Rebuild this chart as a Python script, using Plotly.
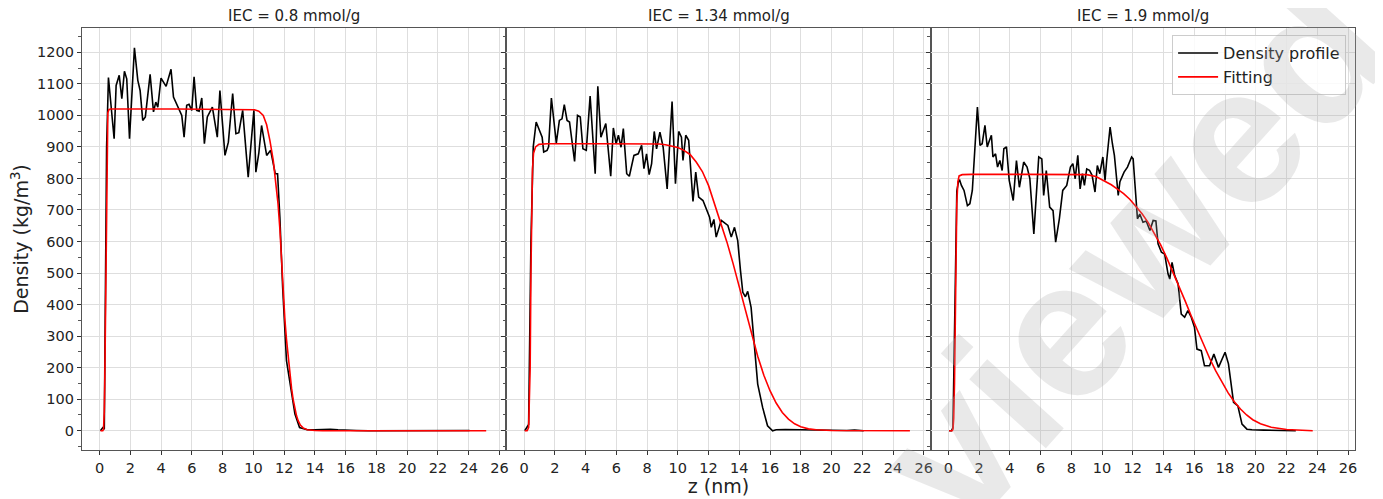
import plotly.graph_objects as go
from plotly.subplots import make_subplots

# ---------------- data ----------------
titles = ["IEC = 0.8 mmol/g", "IEC = 1.34 mmol/g", "IEC = 1.9 mmol/g"]

# IEC 0.8 - density profile
z1 = [0.05, 0.2, 0.3, 0.45, 0.57, 0.94, 1.07, 1.27, 1.44, 1.61, 1.76, 1.94, 2.26, 2.48, 2.63,
      2.8, 2.97, 3.28, 3.5, 3.65, 3.78, 3.99, 4.32, 4.64, 4.8, 5.12, 5.34, 5.49, 5.66, 5.81,
      5.99, 6.14, 6.31, 6.47, 6.64, 6.81, 7.0, 7.33, 7.65, 7.82, 8.15, 8.37, 8.65, 8.86, 9.05,
      9.3, 9.66, 10.03, 10.16, 10.35, 10.53, 10.86, 11.12, 11.42, 11.57, 11.72, 11.9, 12.15,
      12.37, 12.7, 13.0, 13.5, 14.0, 15.0, 15.5, 16.0, 16.7, 17.5, 20.0, 22.0, 22.5, 23.5, 24.06]
d1 = [0, 10, 5, 900, 1120, 926, 1095, 1127, 1053, 1140, 1116, 926, 1214, 1111, 1079,
      984, 995, 1130, 1011, 1042, 1026, 1118, 1092, 1146, 1058, 1021, 1000, 931, 1032, 1035,
      1016, 1122, 1016, 1013, 1055, 910, 995, 1026, 931, 1079, 873, 915, 1069, 942, 945,
      1016, 804, 1016, 820, 880, 968, 873, 889, 815, 815, 677, 455, 222,
      159, 53, 10, 3, 3, 5, 3, 3, 1, 0, 0, 0, 2, 2, 1]
# IEC 0.8 - fitting
zf1 = [0.05, 0.2, 0.25, 0.3, 0.33, 0.37, 0.4, 0.44, 0.48, 0.53, 0.6, 0.7, 5.0, 9.5, 10.07,
       10.35, 10.64, 10.86, 11.07, 11.29, 11.5, 11.6, 11.72, 11.83, 11.95, 12.05, 12.15, 12.26,
       12.37, 12.48, 12.58, 12.69, 12.8, 12.91, 13.05, 13.23, 13.5, 14.0, 14.5, 25.14]
f1 = [0, 0, 5, 60, 150, 350, 570, 800, 960, 1008, 1018, 1020, 1020, 1020, 1018,
      1013, 1000, 970, 921, 857, 772, 720, 640, 530, 420, 350, 290, 230,
      180, 135, 100, 70, 48, 32, 18, 9, 3, 1, 0, 0]

# IEC 1.34 - density profile
z2 = [0.05, 0.2, 0.3, 0.45, 0.6, 0.79, 1.07, 1.18, 1.28, 1.5, 1.6, 1.78, 2.1, 2.3, 2.47, 2.62,
      2.8, 2.96, 3.29, 3.48, 3.66, 3.83, 4.05, 4.3, 4.63, 4.8, 5.0, 5.32, 5.64, 5.81, 5.99,
      6.14, 6.31, 6.46, 6.68, 6.85, 7.15, 7.43, 7.65, 7.8, 7.97, 8.14, 8.3, 8.47, 8.62, 8.84,
      9.05, 9.31, 9.63, 9.85, 10.06, 10.24, 10.34, 10.52, 10.71, 10.99, 11.17, 11.36, 11.64,
      11.86, 12.07, 12.18, 12.35, 12.5, 12.83, 13.26, 13.48, 13.69, 13.9, 14.08, 14.23, 14.4,
      14.55, 14.77, 14.98, 15.2, 15.52, 15.84, 16.17, 16.4, 17.0, 18.0, 19.0, 20.0, 21.0,
      21.5, 22.1]
d2 = [0, 10, 20, 600, 900, 979, 942, 931, 884, 889, 900, 1055, 912, 984, 989, 1034,
      984, 979, 854, 1000, 995, 894, 889, 1061, 815, 1092, 931, 974, 807, 960, 910,
      937, 899, 958, 815, 807, 873, 878, 905, 831, 878, 812, 847, 949, 894, 947,
      899, 767, 1044, 783, 949, 931, 857, 937, 921, 727, 820, 741, 730,
      704, 677, 645, 670, 614, 667, 651, 614, 645, 603, 508, 439, 425,
      442, 391, 275, 148, 74, 16, 0, 3, 4, 3, 1, 0, 1,
      2, 0]
# IEC 1.34 - fitting
zf2 = [0.05, 0.2, 0.3, 0.4, 0.45, 0.5, 0.55, 0.62, 0.75, 0.97, 1.5, 5.0, 8.0, 8.8, 9.2, 9.6,
       10.0, 10.4, 10.8, 11.2, 11.6, 12.0, 12.4, 12.8, 13.2, 13.6, 14.0, 14.4, 14.8, 15.2,
       15.6, 16.0, 16.4, 16.8, 17.2, 17.6, 18.0, 18.5, 19.0, 20.0, 25.1]
f2 = [0, 0, 10, 200, 500, 720, 830, 880, 900, 908, 910, 910, 910, 909, 907, 903,
      898, 889, 876, 852, 822, 778, 720, 661, 598, 530, 458, 382, 306, 236,
      176, 127, 88, 58, 37, 22, 13, 6, 3, 1, 0]

# IEC 1.9 - density profile
z3 = [0.05, 0.2, 0.3, 0.42, 0.55, 0.66, 0.74, 0.85, 1.02, 1.24, 1.4, 1.56, 1.89, 2.06, 2.2,
      2.38, 2.53, 2.63, 2.8, 2.9, 3.07, 3.2, 3.35, 3.5, 3.61, 3.78, 3.96, 4.22, 4.43, 4.62,
      4.9, 5.12, 5.3, 5.56, 5.88, 6.08, 6.2, 6.37, 6.59, 6.81, 6.98, 7.22, 7.44, 7.7, 7.94,
      8.1, 8.25, 8.42, 8.57, 8.72, 8.85, 9.0, 9.18, 9.35, 9.54, 9.69, 9.85, 10.05, 10.19,
      10.3, 10.52, 10.67, 10.8, 11.05, 11.16, 11.43, 11.65, 11.92, 12.02, 12.14, 12.3, 12.45,
      12.66, 12.87, 13.11, 13.32, 13.5, 13.64, 13.86, 14.07, 14.29, 14.4, 14.55, 14.72, 14.94,
      15.15, 15.37, 15.58, 15.8, 16.01, 16.17, 16.45, 16.66, 16.99, 17.27, 17.57, 17.74, 18.0,
      18.22, 18.55, 18.83, 19.1, 19.42, 19.75, 20.5, 21.5, 22.0, 22.6]
d3 = [0, 0, 10, 400, 760, 790, 794, 778, 762, 714, 720, 762, 1026, 905, 910,
      968, 900, 915, 937, 868, 878, 836, 857, 825, 894, 900, 794, 730, 857, 772,
      852, 836, 800, 624, 868, 862, 746, 825, 709, 698, 598, 672, 762, 778, 836,
      847, 799, 873, 767, 815, 778, 830, 826, 810, 757, 841, 815, 868, 794,
      857, 963, 910, 873, 746, 790, 820, 836, 868, 862, 780, 672, 687,
      661, 665, 635, 667, 665, 593, 566, 560, 497, 481, 534, 492, 466,
      370, 360, 381, 360, 328, 259, 254, 206, 206, 243, 201, 222, 249,
      212, 90, 79, 21, 5, 3, 2, 1, 0, 0]
# IEC 1.9 - fitting
zf3 = [0.05, 0.25, 0.3, 0.35, 0.4, 0.45, 0.5, 0.55, 0.62, 0.7, 0.9, 1.5, 5.0, 9.0, 9.6, 10.1,
       10.6, 11.0, 11.4, 11.8, 12.2, 12.6, 13.0, 13.4, 13.8, 14.2, 14.6, 15.0, 15.4, 15.8,
       16.2, 16.6, 17.0, 17.4, 17.8, 18.2, 18.6, 19.0, 19.4, 19.8, 20.3, 21.0, 22.0, 23.0, 23.7]
f3 = [0, 0, 5, 40, 150, 350, 560, 720, 790, 808, 812, 813, 813, 812, 806, 792,
      780, 766, 752, 734, 712, 688, 660, 627, 590, 549, 505, 459, 412, 364,
      317, 272, 229, 189, 152, 120, 92, 69, 50, 35, 22, 11, 4, 1, 0]

profiles = [(z1, d1), (z2, d2), (z3, d3)]
fits = [(zf1, f1), (zf2, f2), (zf3, f3)]
x_ticks = list(range(0, 27, 2))
y_ticks = list(range(0, 1201, 100))

# ---------------- figure ----------------
FONT = "DejaVu Sans"
fig = make_subplots(rows=1, cols=3, shared_yaxes=True, horizontal_spacing=0,
                    subplot_titles=titles)

for i in range(3):
    zp, dp = profiles[i]
    zf, ff = fits[i]
    fig.add_trace(go.Scatter(x=zp, y=dp, mode="lines", name="Density profile",
                             line=dict(color="black", width=1.6),
                             showlegend=(i == 2)), row=1, col=i + 1)
    fig.add_trace(go.Scatter(x=zf, y=ff, mode="lines", name="Fitting",
                             line=dict(color="red", width=1.6),
                             showlegend=(i == 2)), row=1, col=i + 1)

axis_common = dict(showline=True, mirror=True, linecolor="#555555", linewidth=1.2,
                   ticks="outside", ticklen=4, tickwidth=1.1, tickcolor="#333333",
                   showgrid=True, gridcolor="#dedede", gridwidth=1, zeroline=False,
                   automargin=False,
                   tickfont=dict(family=FONT, size=14.5, color="#222222"))

for i in range(1, 4):
    fig.update_xaxes(range=[-1.15, 26.45], tickvals=x_ticks, **axis_common, row=1, col=i)
    fig.update_yaxes(range=[-61, 1277], tickvals=y_ticks,
                     minor=dict(dtick=50, ticklen=2.5, ticks="outside", tickcolor="#555555",
                                showgrid=False),
                     **axis_common, row=1, col=i)

fig.update_xaxes(title=dict(text="z (nm)", font=dict(family=FONT, size=19, color="#222222"),
                            standoff=2), row=1, col=2)
fig.update_yaxes(title=dict(text="Density (kg/m<sup>3</sup>)",
                            font=dict(family=FONT, size=19, color="#222222"), standoff=6),
                 row=1, col=1)

for ann in fig.layout.annotations:
    ann.font = dict(family=FONT, size=15, color="#222222")
    ann.yshift = 1

# watermark
fig.add_annotation(text="viewed", xref="paper", yref="paper", x=0.824, y=0.47,
                   xanchor="center", yanchor="middle",
                   showarrow=False, textangle=-48,
                   font=dict(family="Liberation Sans", size=195, weight="bold",
                             color="rgba(170,170,170,0.26)"))

fig.update_layout(
    width=1383, height=499,
    margin=dict(l=74, r=36, t=20, b=57),
    paper_bgcolor="white", plot_bgcolor="white",
    font=dict(family=FONT, color="#222222"),
    legend=dict(x=0.993, y=0.983, xanchor="right", yanchor="top", itemwidth=40,
                bordercolor="#cccccc", borderwidth=1, bgcolor="rgba(255,255,255,0.85)",
                font=dict(family=FONT, size=16, color="#222222"), tracegroupgap=0),
)

fig.write_html("out.html")
